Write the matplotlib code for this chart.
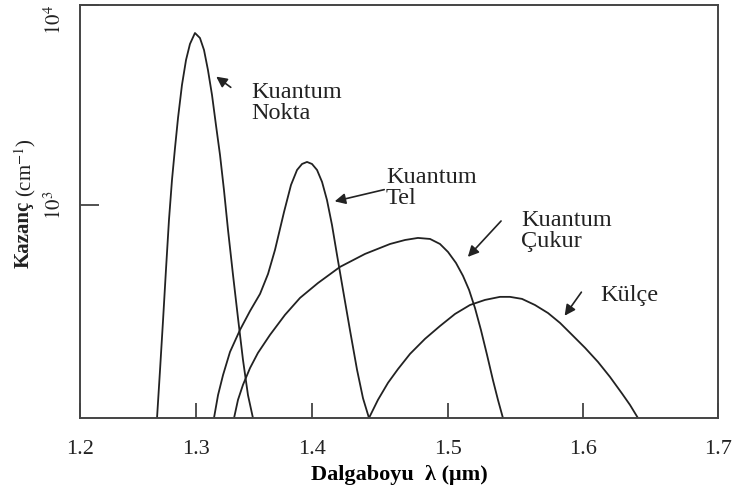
import numpy as np
import matplotlib
matplotlib.use("Agg")
import matplotlib.pyplot as plt

# values: wavelength (um) vs gain (cm^-1)
dot_x = [1.2664, 1.2690, 1.2716, 1.2741, 1.2767, 1.2793, 1.2819, 1.2845, 1.2879, 1.2914,
         1.2948, 1.2991, 1.3034, 1.3069, 1.3103, 1.3138, 1.3172, 1.3207, 1.3241, 1.3276,
         1.3319, 1.3362, 1.3405, 1.3448, 1.3491]
dot_y = [86, 150, 266, 473, 841, 1334, 1928, 2723, 3981, 5309,
         6383, 7244, 6839, 5957, 4732, 3548, 2512, 1778, 1189, 750,
         447, 272, 168, 112, 86]

wire_x = [1.3155, 1.3190, 1.3233, 1.3293, 1.3379, 1.3466, 1.3552, 1.3621, 1.3681, 1.3759,
          1.3819, 1.3871, 1.3914, 1.3957, 1.4000, 1.4037, 1.4074, 1.4110, 1.4147, 1.4184,
          1.4228, 1.4279, 1.4331, 1.4375, 1.4419]
wire_y = [86, 112, 141, 184, 237, 295, 359, 452, 596, 923,
          1259, 1496, 1603, 1641, 1603, 1496, 1303, 1059, 794, 562,
          376, 237, 150, 108, 86]

well_x = [1.3328, 1.3362, 1.3405, 1.3466, 1.3534, 1.3638, 1.3767, 1.3897, 1.4044, 1.4206,
          1.4390, 1.4574, 1.4684, 1.4779, 1.4868, 1.4941, 1.5000, 1.5059, 1.5111, 1.5156,
          1.5200, 1.5244, 1.5289, 1.5333, 1.5370, 1.5407]
well_y = [86, 106, 126, 153, 182, 224, 282, 343, 407, 490,
          569, 638, 668, 684, 676, 638, 582, 513, 442, 376,
          305, 237, 178, 133, 106, 86]

bulk_x = [1.4419, 1.4485, 1.4559, 1.4632, 1.4721, 1.4831, 1.4941, 1.5052, 1.5163, 1.5274,
          1.5385, 1.5459, 1.5548, 1.5644, 1.5741, 1.5830, 1.5919, 1.6015, 1.6111, 1.6200,
          1.6289, 1.6348, 1.6407]
bulk_y = [86, 106, 129, 151, 180, 214, 248, 285, 316, 335,
          347, 347, 339, 316, 288, 257, 224, 193, 164, 138,
          114, 100, 86]

x_ticks = [1.2, 1.3, 1.4, 1.5, 1.6, 1.7]
x_tick_labels = ["1.2", "1.3", "1.4", "1.5", "1.6", "1.7"]
y_ticks = [1e3, 1e4]
y_tick_labels = [r"$10^3$", r"$10^4$"]

# labels: (text, text corner, arrow tail, arrow head)
labels = [
    ("Kuantum\nNokta", (1.3474, 4100), (1.3319, 3802), (1.3155, 4467)),
    ("Kuantum\nTel", (1.4544, 1540), (1.4551, 1202), (1.4147, 1035)),
    ("Kuantum\nÇukur", (1.5541, 940), (1.5407, 851), (1.5133, 537)),
    ("Külçe", (1.6126, 397), (1.6000, 376), (1.5852, 272)),
]

# the scanned original is not evenly spaced along x, so map ticks to their pixel spots
tick_px = [0, 116, 232, 368, 503, 638]

def fwd(x):
    return np.interp(x, x_ticks, tick_px)

def inv(p):
    return np.interp(p, tick_px, x_ticks)

plt.rcParams['font.family'] = ['Liberation Serif', 'DejaVu Serif']
plt.rcParams['mathtext.fontset'] = 'stix'

ink = '#222222'
fig = plt.figure(figsize=(7.35, 4.86), dpi=100)
ax = fig.add_axes([80/735, 68/486, 638/735, 413/486])

for xs, ys in [(dot_x, dot_y), (wire_x, wire_y), (well_x, well_y), (bulk_x, bulk_y)]:
    ax.plot(xs, ys, color=ink, lw=1.3, solid_joinstyle='round', solid_capstyle='round')

ax.set_xscale('function', functions=(fwd, inv))
ax.set_yscale('log')
ax.set_xlim(1.2, 1.7)
ax.set_ylim(86, 1e4)

ax.set_xticks(x_ticks)
ax.set_xticklabels(x_tick_labels, fontsize=16)
ax.set_yticks(y_ticks)
ax.set_yticklabels(y_tick_labels, fontsize=15, rotation=90, va='center')
ax.yaxis.set_minor_locator(matplotlib.ticker.NullLocator())
ax.xaxis.set_minor_locator(matplotlib.ticker.NullLocator())
ax.tick_params(axis='x', direction='in', length=11, width=1.1, pad=16, colors=ink)
ax.tick_params(axis='y', direction='in', length=14, width=1.1, pad=10, colors=ink)
ax.get_yticklabels()[1].set_va('top')

for s in ax.spines.values():
    s.set_color('#444444')
    s.set_linewidth(1.4)

ax.set_xlabel("Dalgaboyu  λ (μm)", fontsize=16, fontweight='bold', labelpad=4)
fig.text(24/735, 1 - 268/486, "Kazanç", rotation=90, fontsize=15, fontweight='bold',
         ha='center', va='bottom', color=ink)
fig.text(25/735, 1 - 197/486, r"(cm$^{-1}$)", rotation=90, fontsize=15,
         ha='center', va='bottom', color=ink)

for txt, pos, tail, head in labels:
    ax.text(pos[0], pos[1], txt, fontsize=17.5, ha='left', va='top', color=ink, linespacing=0.95)
    ax.annotate('', xy=head, xytext=tail,
                arrowprops=dict(arrowstyle='-|>', color=ink, lw=1.2, mutation_scale=16))

fig.savefig("out.png", dpi=100)
